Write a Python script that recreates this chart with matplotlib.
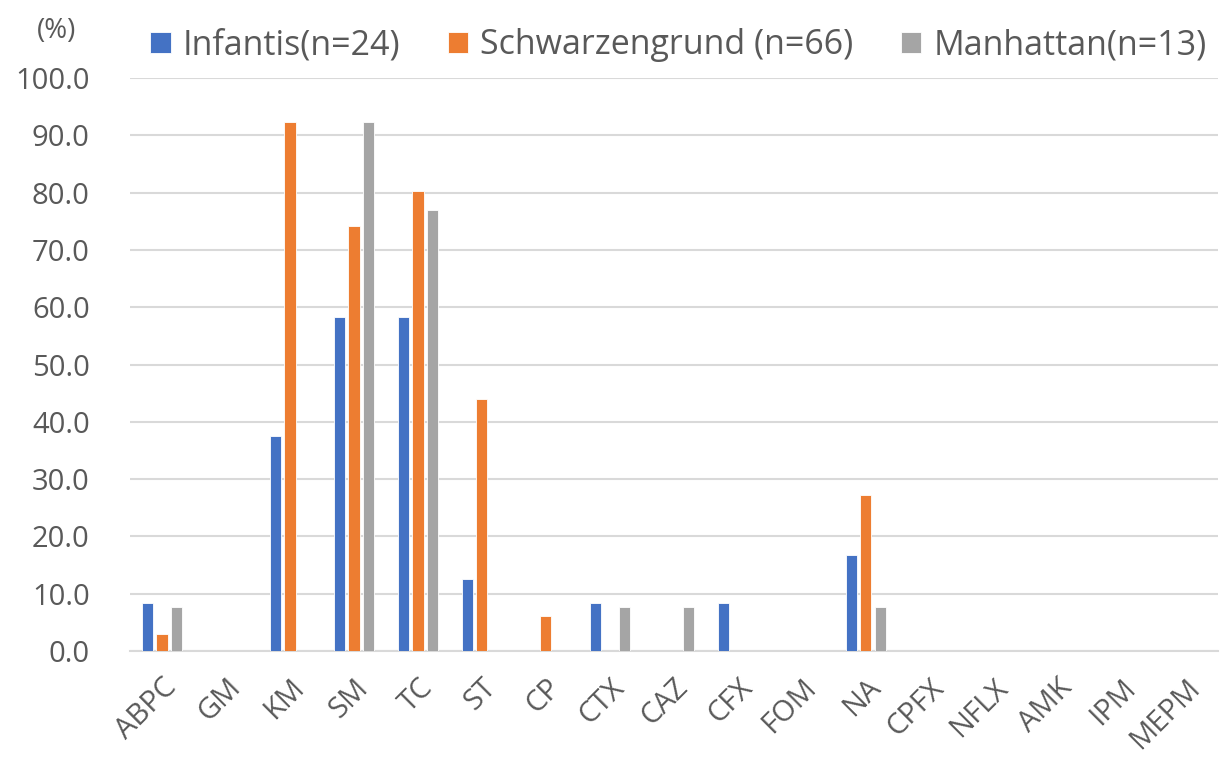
import numpy as np
import matplotlib
matplotlib.use("Agg")
from matplotlib import pyplot as plt

# Antimicrobial resistance rates (%) by serovar
drugs = ["ABPC", "GM", "KM", "SM", "TC", "ST", "CP", "CTX", "CAZ", "CFX",
         "FOM", "NA", "CPFX", "NFLX", "AMK", "IPM", "MEPM"]
infantis = [8.3, 0, 37.5, 58.3, 58.3, 12.5, 0, 8.3, 0, 8.3, 0, 16.7, 0, 0, 0, 0, 0]
schwarzengrund = [3.0, 0, 92.4, 74.2, 80.3, 43.9, 6.1, 0, 0, 0, 0, 27.3, 0, 0, 0, 0, 0]
manhattan = [7.7, 0, 0, 92.3, 76.9, 0, 0, 7.7, 7.7, 0, 0, 7.7, 0, 0, 0, 0, 0]
series_names = ["Infantis(n=24)", "Schwarzengrund (n=66)", "Manhattan(n=13)"]
colors = ["#4472C4", "#ED7D31", "#A5A5A5"]

plt.rcParams['font.family'] = ['Open Sans', 'DejaVu Sans']
text_col = "#595959"

fig = plt.figure(figsize=(12.2, 7.58), dpi=100)
ax = fig.add_axes([0.1066, 0.1412, 0.8914, 0.7558])

x = np.arange(len(drugs))
step = 0.227
width = 0.175
for i, (vals, name, c) in enumerate(zip([infantis, schwarzengrund, manhattan], series_names, colors)):
    ax.bar(x + (i - 1) * step, vals, width, color=c, label=name,
           edgecolor="white", linewidth=0.6, zorder=3)

ax.set_xlim(-0.5, len(drugs) - 0.5)
ax.set_ylim(0, 100)
ax.set_yticks(np.arange(0, 101, 10))
ax.set_yticklabels([f"{v:.1f}" for v in np.arange(0, 101, 10)])
ax.yaxis.grid(True, color="#D9D9D9", linewidth=1.5, zorder=0)
ax.set_axisbelow(True)
for s in ["top", "right", "left"]:
    ax.spines[s].set_visible(False)
ax.spines["bottom"].set_color("#D9D9D9")
ax.spines["bottom"].set_linewidth(1.5)
ax.tick_params(axis="both", length=0, labelsize=21, colors=text_col)
ax.tick_params(axis="y", pad=29)

ax.set_xticks(x)
ax.set_xticklabels(drugs, rotation=45, ha="right", va="top", rotation_mode="anchor")
ax.tick_params(axis="x", pad=16)

fig.text(0.046, 0.959, "(%)", fontsize=20, color=text_col, ha="center", va="center")

leg = fig.legend(loc="center", bbox_to_anchor=(0.556, 0.94), ncol=3, frameon=False,
                 fontsize=24.5, handlelength=0.6, handleheight=0.6,
                 handletextpad=0.35, columnspacing=1.4, labelcolor=text_col)

fig.savefig("out.png", dpi=100)
